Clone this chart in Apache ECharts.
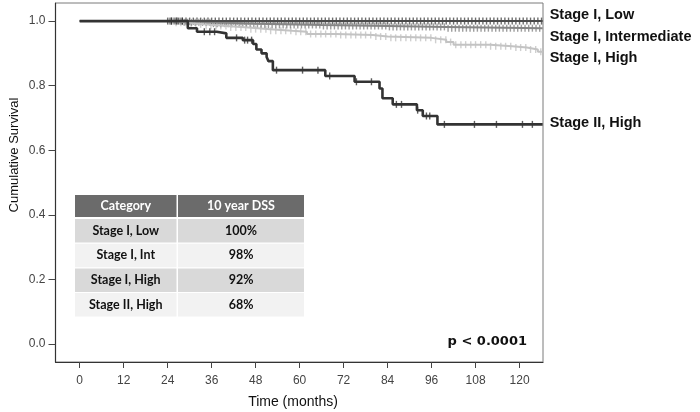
<!DOCTYPE html>
<html><head><meta charset="utf-8">
<script src="https://cdn.jsdelivr.net/npm/echarts@6/dist/echarts.min.js"></script>
<style>html,body{margin:0;padding:0;background:#fff}#c{width:700px;height:412px}</style>
</head><body><div id="c"></div>
<script>
// ---------- data ----------
const xTicks = [0,12,24,36,48,60,72,84,96,108,120];
const yTicks = [0,0.2,0.4,0.6,0.8,1.0];
const seriesNames = ['Stage I, Low','Stage I, Intermediate','Stage I, High','Stage II, High'];
const xTitle = 'Time (months)';
const yTitle = 'Cumulative Survival';

const lowTimes = [0, 126.3];
const lowSurv  = [1.0, 1.0];
const lowCensor = [24,25,26,27,28,29,30,31,32,33,34,35,36,37,38,39,40,41,42,43,44,45,46,47,48,49,50,51,52,53,54,55,56,57,58,59,60,61,62,63,64,65,66,67,68,69,70,71,72,73,74,75,76,77,78,79,80,81,82,83,84,85,86,87,88,89,90,91,92,93,94,95,96,97,98,99,100,101,102,103,104,105,106,107,108,109,110,111,112,113,114,115,116,117,118,119,120,121,122,123,124,125,126];

const intTimes = [0, 28, 36, 48, 66, 84, 100, 126.3];
const intSurv  = [1.0, 0.996, 0.992, 0.988, 0.985, 0.982, 0.978, 0.978];
const intCensor = [24.5,25.5,26.5,27.5,28.5,29.5,30.5,31.5,32.5,33.5,34.5,35.5,36.5,37.5,38.5,39.5,40.5,41.5,42.5,43.5,44.5,45.5,46.5,47.5,48.5,49.5,50.5,51.5,52.5,53.5,54.5,55.5,56.5,57.5,58.5,59.5,60.5,61.5,62.5,63.5,64.5,65.5,66.5,67.5,68.5,69.5,70.5,71.5,72.5,73.5,74.5,75.5,76.5,77.5,78.5,79.5,80.5,81.5,82.5,83.5,84.5,85.5,86.5,87.5,88.5,89.5,90.5,91.5,92.5,93.5,94.5,95.5,96.5,97.5,98.5,99.5,100.5,101.5,102.5,103.5,104.5,105.5,106.5,107.5,108.5,109.5,110.5,111.5,112.5,113.5,114.5,115.5,116.5,117.5,118.5,119.5,120.5,121.5,122.5,123.5,124.5,125.5];

const highTimes = [0, 26, 30, 34, 40, 46, 52, 58, 62, 70, 80, 84, 96, 100, 102, 112, 118, 122, 125, 126.3];
const highSurv  = [1.0, 0.995, 0.990, 0.985, 0.980, 0.975, 0.970, 0.967, 0.960, 0.957, 0.952, 0.948, 0.942, 0.935, 0.927, 0.922, 0.918, 0.912, 0.905, 0.905];
const highCensor = [25,26.3,27.6,29,30.4,31.7,33,34.5,35.8,37.2,38.5,39.9,41.2,42.6,44,45.3,46.7,48,49.4,50.8,52.1,53.5,54.9,56.2,57.6,59,60.3,61.7,63,64.4,65.8,67.1,68.5,69.9,71.2,72.6,74,75.3,76.7,78,79.4,80.8,82.1,83.5,84.9,86.2,87.6,89,90.3,91.7,93,94.4,95.8,97.1,98.5,99.9,101.2,102.6,104,105.3,106.7,108,109.4,110.8,112.1,113.5,114.9,116.2,117.6,119,120.3,121.7,123,124.4,125.8];

const s2Times = [0, 29.5, 32, 37.4, 40, 44.5, 47.3, 48.2, 49.6, 51, 51.5, 52.7, 67, 75, 81.8, 82.6, 85.4, 92, 93.6, 97.6, 126.3];
const s2Surv  = [1.0, 0.978, 0.967, 0.962, 0.948, 0.941, 0.929, 0.912, 0.900, 0.889, 0.876, 0.848, 0.830, 0.812, 0.791, 0.761, 0.742, 0.724, 0.706, 0.680, 0.680];
const s2Censor = [25, 26.5, 28, 34, 35.5, 36.8, 42.8, 45, 45.8, 46.9, 53.7, 60.8, 65, 68.2, 75.5, 79.6, 86.4, 87.8, 92.2, 94.6, 95.5, 99.5, 107.7, 113.7, 120.8, 123.5];

const tableHeader = ['Category', '10 year DSS'];
const tableCategories = ['Stage I, Low', 'Stage I, Int', 'Stage I, High', 'Stage II, High'];
const tableDSS = ['100%', '98%', '92%', '68%'];
const pValueText = 'p < 0.0001';

// ---------- helpers ----------
function pts(times, surv){ return times.map((t,i)=>[t, surv[i]]); }
function survAt(times, surv, t){ let v = surv[0]; for (let i=0;i<times.length;i++){ if (times[i] <= t) v = surv[i]; } return v; }
function censorPts(c, times, surv){ return c.map(t => [t, survAt(times, surv, t)]); }

const groups = [
  {name: seriesNames[2], times: highTimes, surv: highSurv, cens: highCensor, color: '#c3c3c3', w: 2, label: [0, 6]},
  {name: seriesNames[1], times: intTimes, surv: intSurv, cens: intCensor, color: '#858585', w: 2, label: [0, 9]},
  {name: seriesNames[0], times: lowTimes, surv: lowSurv, cens: lowCensor, color: '#4a4a4a', w: 2, label: [0, -6]},
  {name: seriesNames[3], times: s2Times, surv: s2Surv, cens: s2Censor, color: '#333333', w: 2.6, label: [0, -1]}
];

const series = [];
groups.forEach(g => {
  series.push({
    type: 'line', name: g.name, step: 'end', data: pts(g.times, g.surv),
    showSymbol: false, symbol: 'none', silent: true, animation: false,
    lineStyle: {color: g.color, width: g.w},
    endLabel: {show: true, formatter: g.name, color: '#111', fontFamily: 'Liberation Sans', fontWeight: 'bold',
      fontSize: 14.5, distance: 7, offset: g.label, align: 'left'}
  });
  series.push({
    type: 'scatter', name: g.name + ' censored', data: censorPts(g.cens, g.times, g.surv),
    symbol: 'rect', symbolSize: [1.4, 7], silent: true, animation: false,
    itemStyle: {color: g.color}
  });
});

// ---------- table (graphic) ----------
const tX = 75, tW1 = 101.5, tW2 = 126, tTop = 195, hH = 22, rH = 23.5, gap = 1.5;
const graphic = [];
graphic.push({type:'rect', shape:{x:tX, y:tTop, width:tW1, height:hH}, style:{fill:'#6b6b6b'}});
graphic.push({type:'rect', shape:{x:tX+tW1+gap, y:tTop, width:tW2, height:hH}, style:{fill:'#6b6b6b'}});
graphic.push({type:'text', x: tX+tW1/2, y: tTop+hH/2, style:{text: tableHeader[0], fill:'#fff', font:'bold 12.5px Lato', align:'center', verticalAlign:'middle'}});
graphic.push({type:'text', x: tX+tW1+gap+tW2/2, y: tTop+hH/2, style:{text: tableHeader[1], fill:'#fff', font:'bold 12.5px Lato', align:'center', verticalAlign:'middle'}});
tableCategories.forEach((c,i) => {
  const y = tTop + hH + 2 + i*(rH+1.2);
  const fill = i%2===0 ? '#d9d9d9' : '#f2f2f2';
  graphic.push({type:'rect', shape:{x:tX, y:y, width:tW1, height:rH}, style:{fill}});
  graphic.push({type:'rect', shape:{x:tX+tW1+gap, y:y, width:tW2, height:rH}, style:{fill}});
  graphic.push({type:'text', x: tX+tW1/2, y: y+rH/2, style:{text: c, fill:'#111', font:'bold 12.5px Lato', align:'center', verticalAlign:'middle'}});
  graphic.push({type:'text', x: tX+tW1+gap+tW2/2, y: y+rH/2, style:{text: tableDSS[i], fill:'#111', font:'bold 12.5px Lato', align:'center', verticalAlign:'middle'}});
});
graphic.push({type:'text', x: 527, y: 342, style:{text: pValueText, fill:'#111', font:'bold 13px "DejaVu Sans"', align:'right', verticalAlign:'middle'}});
graphic.push({type:'text', x: 14, y: 155, rotation: Math.PI/2, style:{text: yTitle, fill:'#111', font:'13px "Liberation Sans"', align:'center', verticalAlign:'middle'}});
graphic.push({type:'text', x: 293, y: 402, style:{text: xTitle, fill:'#111', font:'14px "Liberation Sans"', align:'center', verticalAlign:'middle'}});

const chart = echarts.init(document.getElementById('c'), null, {renderer: 'canvas'});
chart.setOption({
  animation: false,
  backgroundColor: '#fff',
  grid: {left: 55.5, right: 157, top: 3, bottom: 50, show: true, borderColor: '#7a7a7a', borderWidth: 1,
    backgroundColor: 'transparent', containLabel: false, outerBoundsMode: 'none'},
  xAxis: {
    type: 'value', min: -6.6, max: 126.4,
    axisLine: {show: true, onZero: false, lineStyle: {color: '#333', width: 1.2}},
    axisTick: {show: true, customValues: xTicks, length: 6, lineStyle: {color: '#444'}},
    axisLabel: {show: true, customValues: xTicks, margin: 13, color: '#444', fontFamily: 'Liberation Sans', fontSize: 12},
    splitLine: {show: false}
  },
  yAxis: {
    type: 'value', min: -0.056, max: 1.056,
    axisLine: {show: true, onZero: false, lineStyle: {color: '#333', width: 1.2}},
    axisTick: {show: true, customValues: yTicks, length: 7, lineStyle: {color: '#444'}},
    axisLabel: {show: true, customValues: yTicks, margin: 10, color: '#444', fontFamily: 'Liberation Sans', fontSize: 12,
      formatter: v => v.toFixed(1)},
    splitLine: {show: false}
  },
  series: series,
  graphic: graphic
});
</script></body></html>
